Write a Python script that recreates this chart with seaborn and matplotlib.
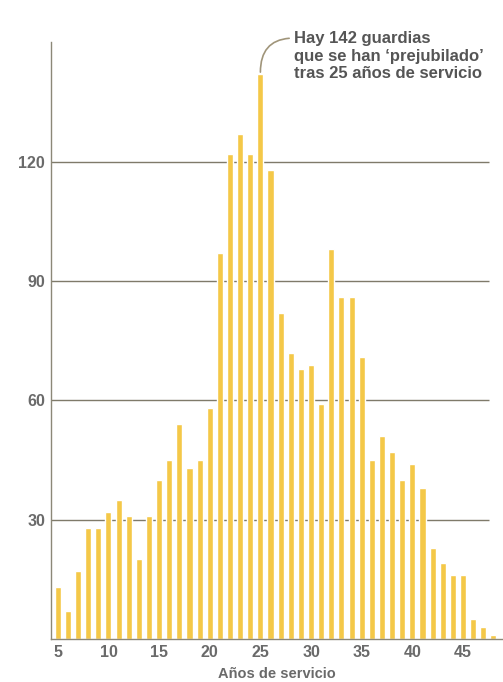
import numpy as np
import matplotlib.pyplot as plt
import seaborn as sns

# Guardias 'prejubilados' por años de servicio
years = list(range(5, 49))
counts = [13, 7, 17, 28, 28, 32, 35, 31, 20, 31,
          40, 45, 54, 43, 45, 58, 97, 122, 127, 122,
          142, 118, 82, 72, 68, 69, 59, 98, 86, 86,
          71, 45, 51, 47, 40, 44, 38, 23, 19, 16,
          16, 5, 3, 1]
y_ticks = [30, 60, 90, 120]
x_ticks = [5, 10, 15, 20, 25, 30, 35, 40, 45]
note = "Hay 142 guardias\nque se han \u2018prejubilado\u2019\ntras 25 años de servicio"

sns.set_style("white")
plt.rcParams['font.family'] = ['Liberation Sans', 'DejaVu Sans']

fig = plt.figure(figsize=(5.03, 6.82), dpi=100)
ax = fig.add_axes([0.101, 0.063, 0.899, 0.875])

xmin, xmax = 4.31, 48.95
ax.hlines(y_ticks, xmin, 47.6, color='#7f7a6a', lw=1, zorder=1)

sns.barplot(x=years, y=counts, native_scale=True, width=0.6,
            color='#F4C848', saturation=1, ax=ax, zorder=2)

ax.set_xlim(xmin, xmax)
ax.set_ylim(0, 150)
ax.set_yticks(y_ticks)
ax.set_xticks(x_ticks)
ax.tick_params(length=0, labelsize=11.5, labelcolor='#6a6a6a', pad=4)
for lab in ax.get_xticklabels() + ax.get_yticklabels():
    lab.set_fontweight('bold')

for side in ['top', 'right']:
    ax.spines[side].set_visible(False)
ax.spines['left'].set_color('#8c8878')
ax.spines['bottom'].set_color('#8c8878')
ax.spines['left'].set_linewidth(1)
ax.spines['bottom'].set_linewidth(1)

ax.set_xlabel('Años de servicio', fontsize=10.5, color='#6a6a6a',
              fontweight='bold', labelpad=5)
ax.set_ylabel('')

ax.annotate(note, xy=(25, 142.5), xytext=(28.3, 152.8),
            ha='left', va='top', fontsize=12, color='#555555',
            fontweight='bold', linespacing=1.2,
            annotation_clip=False,
            arrowprops=dict(arrowstyle='-', color='#a0957a', lw=1.2,
                            shrinkA=1, shrinkB=0, relpos=(0, 0.86),
                            connectionstyle='angle3,angleA=0,angleB=90'))

fig.savefig('out.png', dpi=100)
